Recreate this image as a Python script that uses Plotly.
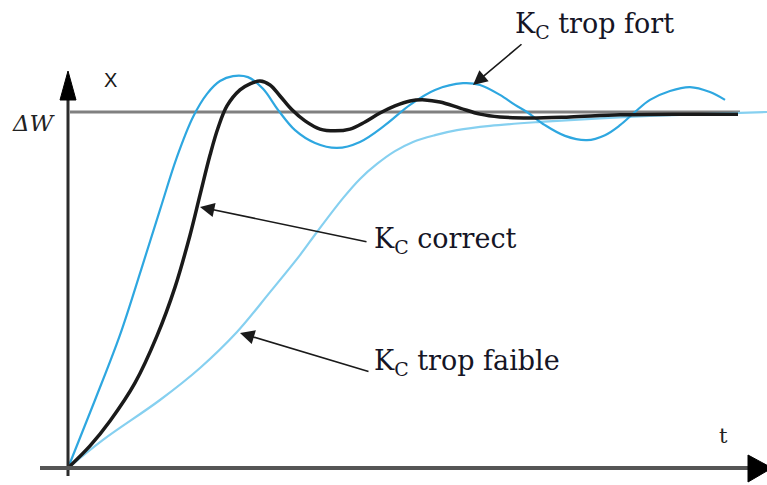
import plotly.graph_objects as go

# ---- data (t in time units, X normalised so that ΔW = 1) ----
t_correct = [0, 0.314, 0.6, 0.957, 1.271, 1.529, 1.743, 1.886, 2.029, 2.143, 2.271, 2.457,
             2.6, 2.743, 2.886, 3.029, 3.2, 3.386, 3.6, 3.814, 4.029, 4.243, 4.457, 4.671,
             4.886, 5.1, 5.314, 5.6, 5.886, 6.171, 6.6, 7.171, 7.886, 8.743, 9.571]
x_correct = [0, 0.062, 0.132, 0.239, 0.371, 0.508, 0.654, 0.767, 0.879, 0.955, 1.017, 1.062,
             1.079, 1.087, 1.076, 1.045, 1.006, 0.975, 0.952, 0.947, 0.952, 0.972, 0.997, 1.017,
             1.031, 1.034, 1.028, 1.011, 0.994, 0.986, 0.983, 0.986, 0.992, 0.994, 0.994]

t_fort = [0, 0.386, 0.743, 1.043, 1.314, 1.557, 1.786, 1.986, 2.171, 2.357, 2.571, 2.786, 3.0,
          3.243, 3.529, 3.843, 4.171, 4.529, 4.886, 5.243, 5.643, 5.886, 6.171, 6.386, 6.557,
          6.814, 7.1, 7.414, 7.671, 7.886, 8.1, 8.314, 8.6, 8.886, 9.171, 9.386]
x_fort = [0, 0.191, 0.374, 0.556, 0.725, 0.874, 0.986, 1.051, 1.087, 1.101, 1.098, 1.065, 1.006,
          0.949, 0.913, 0.899, 0.916, 0.963, 1.020, 1.062, 1.081, 1.076, 1.048, 1.020, 1.0,
          0.963, 0.933, 0.921, 0.935, 0.963, 1.0, 1.034, 1.059, 1.070, 1.056, 1.034]

t_faible = [0, 0.5, 1.314, 1.886, 2.414, 2.886, 3.314, 3.557, 3.929, 4.171, 4.414, 4.671,
            4.929, 5.243, 5.557, 6.029, 6.743, 7.6, 8.314, 9.029, 9.986]
x_faible = [0, 0.079, 0.191, 0.281, 0.382, 0.494, 0.598, 0.663, 0.758, 0.812, 0.854, 0.890,
            0.916, 0.935, 0.949, 0.961, 0.972, 0.982, 0.989, 0.994, 1.0]

setpoint = 1.0
labels = ["K<sub>C</sub> trop fort", "K<sub>C</sub> correct", "K<sub>C</sub> trop faible"]

W, H = 767, 485
OX, OY, SX, SY = 68, 468, 70.0, 356.0   # pixel position of origin and scale

def T(px):
    return (px - OX) / SX

def Y(py):
    return (OY - py) / SY

def PX(px):
    return px / W

def PY(py):
    return 1 - py / H

fig = go.Figure()
fig.add_trace(go.Scatter(x=t_faible, y=x_faible, mode="lines", line=dict(color="#86d0f0", width=2.2, shape="spline", smoothing=1.0), hoverinfo="skip"))
fig.add_trace(go.Scatter(x=t_fort, y=x_fort, mode="lines", line=dict(color="#2ea7e0", width=2.2, shape="spline", smoothing=1.0), hoverinfo="skip"))
fig.add_trace(go.Scatter(x=t_correct, y=x_correct, mode="lines", line=dict(color="#1a1a1a", width=3.5, shape="spline", smoothing=1.0), hoverinfo="skip"))

shapes = []
# setpoint line
shapes.append(dict(type="line", xref="x", yref="y", x0=T(70), x1=T(740), y0=setpoint, y1=setpoint,
                   line=dict(color="#808080", width=3), layer="below"))
# y axis
shapes.append(dict(type="line", xref="paper", yref="paper", x0=PX(68), x1=PX(68), y0=PY(476), y1=PY(98),
                   line=dict(color="#2b2b2b", width=3)))
shapes.append(dict(type="path", xref="paper", yref="paper",
                   path=f"M {PX(60)} {PY(100)} L {PX(68)} {PY(71)} L {PX(76)} {PY(100)} Z",
                   fillcolor="black", line=dict(color="black", width=1)))
# x axis
shapes.append(dict(type="line", xref="paper", yref="paper", x0=PX(40), x1=PX(750), y0=PY(468), y1=PY(468),
                   line=dict(color="#555555", width=4)))
shapes.append(dict(type="path", xref="paper", yref="paper",
                   path=f"M {PX(748)} {PY(455)} L {PX(772)} {PY(468)} L {PX(748)} {PY(482)} Z",
                   fillcolor="black", line=dict(color="black", width=1)))

tf = dict(family="DejaVu Serif", size=27, color="#151525")
ann = []
ann.append(dict(xref="paper", yref="paper", x=PX(102), y=PY(80), text="X", showarrow=False,
                font=dict(family="Liberation Sans", size=20, color="#1a1a1a"), xanchor="left", yanchor="middle"))
ann.append(dict(xref="paper", yref="paper", x=PX(10), y=PY(123), text="<i>ΔW</i>", showarrow=False,
                font=dict(family="DejaVu Serif", size=23, color="#222"), xanchor="left", yanchor="middle"))
ann.append(dict(xref="paper", yref="paper", x=PX(723), y=PY(436), text="t", showarrow=False,
                font=dict(family="DejaVu Serif", size=21, color="#222"), xanchor="center", yanchor="middle"))
# labels
ann.append(dict(xref="paper", yref="paper", x=PX(513), y=PY(25), text=labels[0], showarrow=False,
                font=tf, xanchor="left", yanchor="middle"))
ann.append(dict(xref="paper", yref="paper", x=PX(372), y=PY(240), text=labels[1], showarrow=False,
                font=tf, xanchor="left", yanchor="middle"))
ann.append(dict(xref="paper", yref="paper", x=PX(372), y=PY(362), text=labels[2], showarrow=False,
                font=tf, xanchor="left", yanchor="middle"))
# arrows
for (tx, ty, hx, hy) in [(523, 43, 473, 85), (368, 242, 200, 207), (370, 372, 240, 333)]:
    ann.append(dict(xref="x", yref="y", axref="x", ayref="y", x=T(hx), y=Y(hy), ax=T(tx), ay=Y(ty),
                    text="", showarrow=True, arrowhead=2, arrowsize=1.8, arrowwidth=1.6, arrowcolor="#1a1a1a"))

fig.update_layout(
    width=W, height=H, margin=dict(l=0, r=0, t=0, b=0),
    paper_bgcolor="white", plot_bgcolor="white", showlegend=False,
    xaxis=dict(range=[T(0), T(W)], visible=False, fixedrange=True),
    yaxis=dict(range=[Y(H), Y(0)], visible=False, fixedrange=True),
    shapes=shapes, annotations=ann,
)
fig.write_html("out.html", config={"displayModeBar": False},
               post_script="document.body.style.margin='0';document.body.style.overflow='hidden';")
